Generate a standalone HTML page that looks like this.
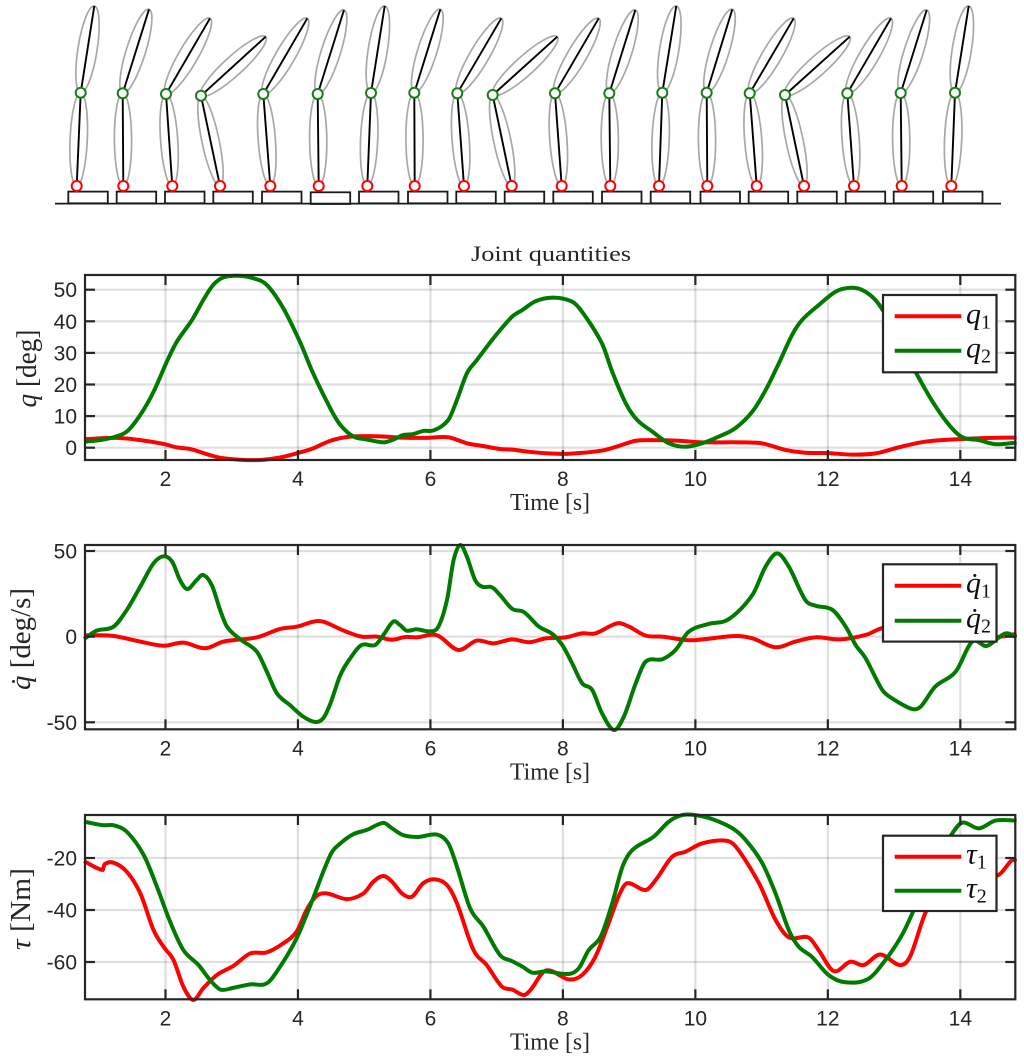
<!DOCTYPE html>
<html>
<head>
<meta charset="utf-8">
<title>Joint quantities</title>
<style>
html,body{margin:0;padding:0;background:#fff;width:1024px;height:1059px;overflow:hidden}
svg{display:block}
.tick{font-family:"Liberation Sans",sans-serif;font-size:21px;fill:#262626}
.lab{font-family:"Liberation Serif",serif;fill:#262626}
</style>
</head>
<body>
<svg id="fig" xmlns="http://www.w3.org/2000/svg" width="1024" height="1059" viewBox="0 0 1024 1059"></svg>
<script>
// ---- chart data ----
const xTicks = [2, 4, 6, 8, 10, 12, 14];
const xRange = [0.785, 14.83];

const qTicks = [0, 10, 20, 30, 40, 50];
const q1Time = [0.77,1.27,1.62,1.97,2.17,2.37,2.62,2.83,3.13,3.43,3.73,3.98,4.23,4.49,4.79,5.24,5.54,5.94,6.27,6.55,6.8,7.05,7.235,7.49,7.79,8.09,8.59,8.85,9.1,9.35,9.75,10.1,10.66,11.0,11.36,11.66,12.0,12.37,12.72,13.07,13.47,13.98,14.48,14.85];
const q1Values = [2.7,3.1,2.4,1.2,0.1,-0.4,-2.0,-3.2,-3.8,-3.9,-3.1,-1.8,-0.2,2.2,3.5,3.6,3.2,3.1,3.3,1.4,0.5,-0.4,-0.6,-1.3,-1.8,-1.9,-0.9,0.6,2.2,2.4,2.2,1.7,1.7,1.4,-0.7,-1.6,-1.7,-2.2,-1.8,0.1,1.9,2.7,3.1,3.2];
const q2Time = [0.77,1.01,1.215,1.416,1.618,1.82,2.02,2.17,2.4,2.57,2.72,2.875,3.1,3.33,3.53,3.78,4.03,4.23,4.49,4.64,4.84,5.04,5.29,5.42,5.59,5.74,5.89,6.05,6.27,6.4,6.55,6.7,6.95,7.235,7.39,7.59,7.86,8.14,8.29,8.59,8.745,8.95,9.12,9.35,9.6,9.85,10.1,10.35,10.6,10.86,11.06,11.26,11.46,11.61,11.86,12.12,12.34,12.52,12.72,12.92,13.12,13.35,13.58,13.83,14.03,14.28,14.53,14.85];
const q2Values = [1.9,2.4,3.3,5.1,10.3,17.7,27.2,33.5,40.4,46.7,51.5,53.9,54.4,53.6,51.5,44.1,33.5,23.5,12.4,7.2,3.5,2.6,1.7,2.4,4.0,4.3,5.3,5.5,8.8,15.1,23.5,27.7,34.6,41.5,43.6,46.4,47.5,46.2,43,33,24,14,8.8,5.1,1.4,0.3,1.4,3.5,6.1,11.4,18.2,26.7,35.7,40.4,45.1,49.4,50.6,49.9,46.7,40.4,32,23,14.6,7.2,3.3,2.4,1.1,1.6];

const dqTicks = [-50, 0, 50];
const dq1Time = [0.77,1.215,1.62,1.97,2.27,2.6,2.875,3.38,3.73,3.98,4.33,4.69,4.96,5.19,5.42,5.62,5.79,6.1,6.42,6.7,6.95,7.235,7.49,7.74,8.04,8.29,8.49,8.82,9,9.25,9.5,9.9,10.2,10.61,10.86,11.21,11.51,11.81,12.19,12.57,12.77,13.02,13.27,13.78,14.18,14.53,14.85];
const dq1Values = [0.8,0.4,-2.9,-5.3,-3.5,-6.8,-2.9,-0.4,4.5,5.8,9.1,3.5,0,0,-1.8,-0.2,-0.4,0.8,-7.8,-2.3,-3.9,-1.6,-3.3,-1,-0.4,1.9,1.9,7.8,5.8,0.6,0,-2.1,-1.2,0.4,-1,-6.2,-2.9,-0.4,-1.6,1,4.3,7.5,7,3.9,0,-0.4,1.6];
const dq2Time = [0.77,0.96,1.215,1.416,1.62,1.82,1.97,2.1,2.22,2.33,2.47,2.57,2.7,2.825,2.93,3.13,3.38,3.53,3.68,3.88,4.08,4.26,4.38,4.49,4.64,4.79,4.96,5.165,5.29,5.44,5.54,5.64,5.79,5.99,6.12,6.25,6.35,6.45,6.55,6.675,6.78,6.93,7.05,7.235,7.41,7.64,7.84,7.99,8.14,8.29,8.44,8.59,8.77,8.92,9.1,9.25,9.5,9.7,9.9,10.2,10.5,10.86,11.06,11.235,11.41,11.66,11.81,12.07,12.27,12.42,12.57,12.82,12.97,13.27,13.4,13.62,13.93,14.18,14.4,14.68,14.85];
const dq2Values = [-1.4,3.5,5.8,15.6,29.2,42.8,46.9,43.8,33,27.8,33,36,30,15.6,5.8,-1.6,-8.8,-20.4,-33,-40,-46.7,-49.8,-47.7,-39,-22.4,-12.6,-4.9,-4.9,1,8.8,6.8,3.5,4.3,3.1,5.8,21.4,44.7,53.5,46.7,33,29.2,28.8,24.3,16.2,14.4,5.8,1.6,-4.9,-15.6,-27.2,-31,-44.7,-54.5,-46.7,-27.2,-14.6,-13.2,-7.8,2.9,7.4,10.1,24.3,40.9,48.6,40.9,21.4,18.1,15.6,5.8,-4.9,-12.6,-31,-36,-42.2,-40.9,-29.2,-20.4,-2.9,-5.4,1.9,-0.4];

const tauTicks = [-60, -40, -20];
const tau1Time = [0.77,1.05,1.08,1.215,1.416,1.62,1.82,1.97,2.12,2.27,2.42,2.57,2.775,3.03,3.28,3.53,3.78,3.98,4.13,4.28,4.43,4.74,4.99,5.14,5.29,5.42,5.57,5.72,5.89,6.07,6.25,6.4,6.65,6.85,7.08,7.235,7.41,7.51,7.74,8.09,8.29,8.49,8.69,8.85,8.97,9.25,9.4,9.65,9.85,10.1,10.46,10.61,10.96,11.21,11.41,11.71,11.86,12.09,12.34,12.54,12.79,13.09,13.24,13.47,13.77,14.18,14.58,14.78,14.85];
const tau1Values = [-21.2,-24.6,-22.4,-21.8,-25.3,-33.6,-47.7,-54.1,-59.2,-69.5,-74.6,-70.1,-65,-61.4,-56.7,-56.3,-52.8,-48.3,-40,-34.6,-33.6,-35.8,-33.6,-29.1,-26.9,-29.1,-33.6,-34.9,-29.7,-28.2,-30.4,-37.4,-55.4,-61.2,-69.5,-70.6,-72.7,-70.8,-63.3,-66.7,-65,-58,-45.1,-34.2,-29.7,-32.3,-28.5,-19.5,-17.6,-14.4,-13.3,-15.6,-29.7,-43.8,-50.5,-50.6,-55.4,-63.5,-59.9,-61.2,-57.1,-61.2,-58,-41.3,-27.2,-28.5,-26.5,-20.8,-21.2];
const tau2Time = [0.77,1.06,1.215,1.416,1.67,1.87,2.07,2.27,2.5,2.675,2.83,3.03,3.28,3.53,3.73,3.98,4.18,4.49,4.64,4.84,5.04,5.29,5.42,5.59,5.82,6.1,6.27,6.4,6.6,6.8,7.05,7.235,7.39,7.54,7.74,8.09,8.24,8.39,8.57,8.745,8.9,9.05,9.37,9.6,9.8,10,10.25,10.56,10.76,11.01,11.21,11.41,11.56,11.76,12.01,12.26,12.61,12.87,13.12,13.32,13.57,13.88,14.03,14.28,14.53,14.85];
const tau2Values = [-6,-7.4,-7.4,-9.9,-18.8,-31,-44.5,-55.4,-61.2,-67,-70.6,-69.9,-68.6,-68.2,-61.8,-50.9,-38.7,-18.8,-14.4,-10.8,-9.2,-6.5,-8.6,-11.2,-11.9,-11,-14.4,-23.3,-39.4,-46.4,-57.3,-59.7,-61.8,-64.1,-63.6,-64.6,-62.4,-55.4,-50.3,-37.4,-23.3,-16.9,-11.8,-6,-3.5,-3.5,-5,-8.6,-13.1,-22,-33.6,-47.7,-54.1,-58,-65,-67.8,-66.5,-59.2,-49.6,-38.7,-23.3,-10.5,-6.4,-8.6,-5.6,-5.6];

// ---- robot illustration: one pose per snapshot ----
const ankleX = [76.7,123.3,172.3,220,270.3,318.7,367.3,414.7,464,511.7,561.7,610.3,659,707.3,756.7,804,854,901.7,951.3];
const kneeX  = [80.7,122.7,166,201,263.3,317.7,371,414.3,457.3,492.7,555,609.3,662.3,706.7,749.7,785,847.3,900.7,955];
const kneeY  = [92.7,93.3,94,95.7,94,94,93,92.7,93.3,95,93.3,93.3,92.7,92.7,93.3,95,93.3,93,92.7];
const tipX   = [94.3,149,210,265.7,307.3,344,384.7,440.3,501.3,557.3,598.7,635.3,676.3,732.3,793.7,849.7,891,926.7,968.7];
const tipY   = [6,9.3,18.3,36.7,18.3,10,6,9.3,18.3,36.7,18.3,10,6,9.3,18.3,36.7,18.3,10,6];
const footX  = [68.3,116.7,165,213.3,262,310.7,359,408,456.3,504.7,553.3,602,650.7,700.5,748.7,797.3,845.7,893.7,943];

// ---- helpers ----
const svg = document.getElementById('fig');
const NS = 'http://www.w3.org/2000/svg';
const RED = '#ff0000', GREEN = '#007a00', INK = '#262626';
const AXW = 2.2, LINEW = 4;
function mk(tag, attrs, parent) {
  const e = document.createElementNS(NS, tag);
  for (const k in attrs) e.setAttribute(k, attrs[k]);
  (parent || svg).appendChild(e);
  return e;
}
const xS = t => 85 + (t - xRange[0]) * (1015.3 - 85) / (xRange[1] - xRange[0]);
function linScale(v0, p0, v1, p1) { return v => p0 + (v - v0) * (p1 - p0) / (v1 - v0); }
function smooth(ts, vs, yS) {
  const n = ts.length, m = [];
  for (let i = 0; i < n; i++) {
    const a = Math.max(i - 1, 0), b = Math.min(i + 1, n - 1);
    m[i] = (vs[b] - vs[a]) / (ts[b] - ts[a]);
  }
  let d = 'M' + xS(ts[0]).toFixed(2) + ' ' + yS(vs[0]).toFixed(2);
  for (let i = 0; i < n - 1; i++) {
    const h = ts[i + 1] - ts[i];
    d += 'C' + xS(ts[i] + h / 3).toFixed(2) + ' ' + yS(vs[i] + m[i] * h / 3).toFixed(2) + ' ' +
      xS(ts[i + 1] - h / 3).toFixed(2) + ' ' + yS(vs[i + 1] - m[i + 1] * h / 3).toFixed(2) + ' ' +
      xS(ts[i + 1]).toFixed(2) + ' ' + yS(vs[i + 1]).toFixed(2);
  }
  return d;
}

// ---- robot snapshots ----
const robotGroup = mk('g', {});


const ANKLE_Y = 186;
function linkEllipse(x1, y1, x2, y2, ry, parent) {
  const cx = (x1 + x2) / 2, cy = (y1 + y2) / 2;
  const len = Math.hypot(x2 - x1, y2 - y1);
  const ang = Math.atan2(y2 - y1, x2 - x1) * 180 / Math.PI;
  return mk('ellipse', {cx: cx, cy: cy, rx: len / 2, ry: ry, transform: 'rotate(' + ang + ' ' + cx + ' ' + cy + ')', fill: 'none', stroke: '#a8a8a8', 'stroke-width': 1.7}, parent);
}
ankleX.forEach((ax, i) => {
  const g = mk('g', {}, robotGroup);
  
  
  const foot = mk('rect', {x: footX[i], y: i === 5 ? 192.3 : 191.6, width: 39.5, height: 11.7, fill: '#fff', stroke: '#1a1a1a', 'stroke-width': 1.8}, g);
  
  
  const e1 = linkEllipse(ax, ANKLE_Y, kneeX[i], kneeY[i], 8.6, g);
  
  
  const e2 = linkEllipse(kneeX[i], kneeY[i], tipX[i], tipY[i], 9.6, g);
  
  
  const l1 = mk('line', {x1: ax, y1: ANKLE_Y, x2: kneeX[i], y2: kneeY[i], stroke: '#000', 'stroke-width': 1.9}, g);
  
  
  const l2 = mk('line', {x1: kneeX[i], y1: kneeY[i], x2: tipX[i], y2: tipY[i], stroke: '#000', 'stroke-width': 1.9}, g);
  
  
  const c1 = mk('circle', {cx: ax, cy: ANKLE_Y, r: 5, fill: '#fff', stroke: RED, 'stroke-width': 2}, g);
  
  
  const c2 = mk('circle', {cx: kneeX[i], cy: kneeY[i], r: 5, fill: '#fff', stroke: '#1c7c1c', 'stroke-width': 2}, g);
  
  
});
const ground = mk('line', {x1: 55, y1: 203.6, x2: 1001, y2: 203.6, stroke: '#1a1a1a', 'stroke-width': 1.8}, robotGroup);



// ---- title ----
const title = mk('text', {x: 471, y: 261, class: 'lab', 'font-size': 22, textLength: 160, lengthAdjust: 'spacingAndGlyphs'});


title.textContent = 'Joint quantities';

// ---- panels ----
function panel(o) {
  const g = mk('g', {});
  
  
  const L = 85, R = 1015.3, T = o.top, B = o.bottom;
  // grid
  xTicks.forEach(v => {
    const gl = mk('line', {x1: xS(v), x2: xS(v), y1: T, y2: B, stroke: '#262626', 'stroke-opacity': .15, 'stroke-width': 2.2}, g);
    
    
  });
  o.yTicks.forEach(v => {
    const gl = mk('line', {x1: L, x2: R, y1: o.y(v), y2: o.y(v), stroke: '#262626', 'stroke-opacity': .15, 'stroke-width': 2.2}, g);
    
    
  });
  // series
  const s1 = mk('path', {d: smooth(o.t1, o.v1, o.y), fill: 'none', stroke: RED, 'stroke-width': LINEW, 'stroke-linejoin': 'round'}, g);
  
  
  const s2 = mk('path', {d: smooth(o.t2, o.v2, o.y), fill: 'none', stroke: GREEN, 'stroke-width': LINEW, 'stroke-linejoin': 'round'}, g);
  
  
  // axes box
  const box = mk('rect', {x: L, y: T, width: R - L, height: B - T, fill: 'none', stroke: INK, 'stroke-width': AXW}, g);
  
  
  // x ticks
  xTicks.forEach(v => {
    const x = xS(v);
    const t1 = mk('line', {x1: x, x2: x, y1: T, y2: T + 10, stroke: INK, 'stroke-width': AXW}, g);
    
    
    const t2 = mk('line', {x1: x, x2: x, y1: B, y2: B - 10, stroke: INK, 'stroke-width': AXW}, g);
    
    
    const tl = mk('text', {x: x, y: B + 26, class: 'tick', 'text-anchor': 'middle'}, g);
    
    
    tl.textContent = v;
  });
  // y ticks
  o.yTicks.forEach(v => {
    const y = o.y(v);
    const t1 = mk('line', {x1: L, x2: L + 10, y1: y, y2: y, stroke: INK, 'stroke-width': AXW}, g);
    
    
    const t2 = mk('line', {x1: R, x2: R - 10, y1: y, y2: y, stroke: INK, 'stroke-width': AXW}, g);
    
    
    const tl = mk('text', {x: 77, y: y + 7.5, class: 'tick', 'text-anchor': 'end'}, g);
    
    
    tl.textContent = v;
  });
  // x label
  const xl = mk('text', {x: 510, y: B + 50, class: 'lab', 'font-size': 24, textLength: 80, lengthAdjust: 'spacingAndGlyphs'}, g);
  
  
  xl.textContent = 'Time [s]';
  // y label
  const yl = mk('text', {class: 'lab', 'font-size': o.ySize, 'text-anchor': 'middle', transform: 'translate(' + o.yX + ' ' + o.yC + ') rotate(-90)', textLength: o.yLen, lengthAdjust: 'spacingAndGlyphs'}, g);
  
  
  const sym = mk('tspan', {'font-style': 'italic'}, yl);
  sym.textContent = o.sym;
  const unit = mk('tspan', {}, yl);
  unit.textContent = ' ' + o.unit;
  // legend
  const lg = mk('g', {}, g);
  
  
  const lb = mk('rect', {x: 883, y: o.legTop, width: 113.5, height: o.legH, fill: '#fff', stroke: INK, 'stroke-width': AXW}, lg);
  
  
  [[o.leg1, RED, '1'], [o.leg2, GREEN, '2']].forEach(e => {
    const ln = mk('line', {x1: 894.7, x2: 961.3, y1: e[0], y2: e[0], stroke: e[1], 'stroke-width': LINEW}, lg);
    
    
    const tx = mk('text', {x: 966, y: e[0] + 7, class: 'lab', 'font-size': 30}, lg);
    
    
    const a = mk('tspan', {'font-style': 'italic', fill: '#111'}, tx);
    a.textContent = o.sym;
    const b = mk('tspan', {'font-size': 20, dy: 5, fill: '#111'}, tx);
    b.textContent = e[2];
  });
}

panel({name: 'position', top: 275, bottom: 460, y: linScale(0, 447.7, 50, 289.7), yTicks: qTicks,
  t1: q1Time, v1: q1Values, t2: q2Time, v2: q2Values, sym: 'q', unit: '[deg]', ySize: 28, yX: 36, yC: 368.5, yLen: 78,
  legTop: 295, legH: 77.3, leg1: 316.3, leg2: 350.7});
panel({name: 'velocity', top: 545, bottom: 729.3, y: linScale(-50, 722.3, 50, 551), yTicks: dqTicks,
  t1: dq1Time, v1: dq1Values, t2: dq2Time, v2: dq2Values, sym: 'q\u0307', unit: '[deg/s]', ySize: 28, yX: 30, yC: 639, yLen: 102,
  legTop: 564.3, legH: 77.3, leg1: 585.7, leg2: 620.7});
panel({name: 'torque', top: 815, bottom: 999.3, y: linScale(-60, 962, -20, 858), yTicks: tauTicks,
  t1: tau1Time, v1: tau1Values, t2: tau2Time, v2: tau2Values, sym: '\u03C4', unit: '[Nm]', ySize: 28, yX: 30, yC: 909, yLen: 82,
  legTop: 835.7, legH: 75.3, leg1: 856.7, leg2: 890.7});
</script>
</body>
</html>
